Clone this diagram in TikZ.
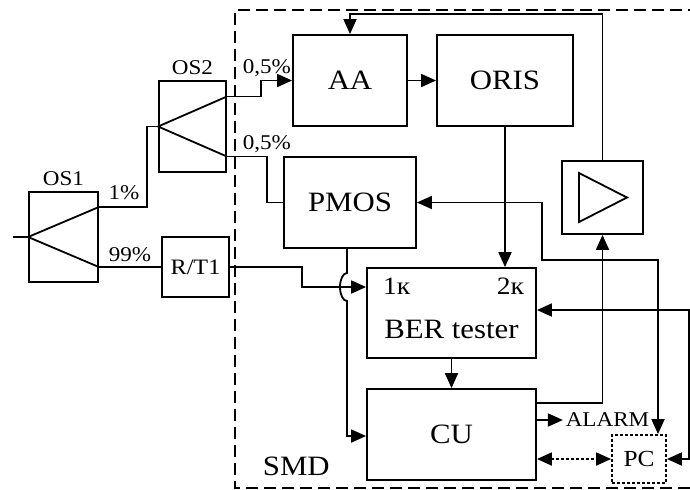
\documentclass[tikz,border=0pt]{standalone}
\usepackage{fontspec}
\setmainfont{Liberation Serif}[FakeStretch=1.1]
\usetikzlibrary{positioning, calc, arrows.meta}

\begin{document}
\begin{tikzpicture}[
  x=0.5pt, y=-0.5pt,
  line width=0.9pt,
  >={Triangle[length=7.5pt,width=6.5pt]},
  blk/.style={draw, line width=0.9pt, inner sep=0pt, font=\fontsize{14}{16}\selectfont},
  lbl/.style={inner sep=0pt, font=\fontsize{10.5}{12}\selectfont},
  frame/.style={line width=0.9pt, dash pattern=on 6pt off 3pt},
  dots/.style={dash pattern=on 1.5pt off 1pt},
]
\useasboundingbox (0,0) rectangle (690,489);

% ---------- SMD frame ----------
\coordinate (frameBL) at (235,488);
\draw[frame] (700,10) -- (235,10) -- (frameBL) -- (700,488);
\node[inner sep=0pt, font=\fontsize{14}{16}\selectfont, anchor=base west] (smd)
  at ($(frameBL)+(27,-13)$) {SMD};

% ---------- splitters ----------
\node[blk, minimum width=34.5pt, minimum height=45pt] (os1) at (63.5,237) {};
\node[blk, minimum width=33.5pt, minimum height=45.5pt] (os2) at (192.5,126.5) {};
\node[lbl, anchor=south] (os1lbl) at ([yshift=2.5pt]os1.north) {OS1};
\node[lbl, anchor=south] (os2lbl) at ([yshift=2.5pt]os2.north) {OS2};

\coordinate (os1up) at ($(os1.east)+(0,-30)$);
\coordinate (os1dn) at ($(os1.east)+(0,30)$);
\coordinate (os2up) at ($(os2.east)+(0,-30)$);
\coordinate (os2dn) at ($(os2.east)+(0,30)$);
\draw (os1up) -- (os1.west) -- (os1dn);
\draw (os2up) -- (os2.west) -- (os2dn);

\coordinate (inp) at (13,237);
\draw (inp) -- (os1.west);

% ---------- blocks ----------
\node[blk, minimum width=33.5pt, minimum height=30pt,
      font=\fontsize{11}{13}\selectfont] (rt1) at (195.5,267) {R/T1};
\node[blk, minimum width=57pt, minimum height=45.5pt] (aa) at (350,80.5) {AA};
\node[blk, minimum width=68pt, minimum height=45.5pt] (oris) at (505,80.5) {ORIS};
\node[blk, minimum width=66pt, minimum height=45.5pt] (pmos) at (350,202.5) {PMOS};
\node[blk, minimum width=40.5pt, minimum height=36.5pt] (amp) at (602.5,197.5) {};
\node[blk, minimum width=84.5pt, minimum height=45pt] (ber) at (451.5,313) {};
\node[blk, minimum width=84.5pt, minimum height=45.5pt] (cu) at (451.5,434.5) {CU};
\node[blk, dots, minimum width=27pt, minimum height=24pt,
      font=\fontsize{11.5}{13}\selectfont] (pc) at (639,459) {PC};

% amplifier symbol
\draw ($(amp.center)+(-23.5,-24.5)$) -- ($(amp.center)+(-23.5,24.5)$)
  -- ($(amp.center)+(24.5,0)$) -- cycle;

% BER tester texts
\node[inner sep=0pt, font=\fontsize{14}{16}\selectfont, anchor=base] (berlbl)
  at ($(ber.south)+(0,-20)$) {BER tester};
\node[inner sep=0pt, font=\fontsize{12.5}{14}\selectfont, anchor=base west] (ch1)
  at ($(ber.north west)+(16,27)$) {1к};
\node[inner sep=0pt, font=\fontsize{12.5}{14}\selectfont, anchor=base east] (ch2)
  at ($(ber.north east)+(-12,27)$) {2к};

% ---------- splitter outputs ----------
\draw (os1up) -| ($(os2.west)+(-11,0)$) -- (os2.west);
\node[lbl, anchor=south] (p1) at ($(os1up)+(25,-6)$) {1\%};
\draw (os1dn) -- (rt1.west);
\node[lbl, anchor=south] (p99) at ($(os1dn)!0.5!(rt1.west)+(0,-4)$) {99\%};

\draw[->] (os2up) -| ($(aa.west)+(-31,0)$) -- (aa.west);
\node[lbl, anchor=base west] (p05a) at ($(os2up)+(15,-23)$) {0,5\%};
\draw (os2dn) -| ($(pmos.west)+(-16,0)$) -- (pmos.west);
\node[lbl, anchor=base west] (p05b) at ($(os2dn)+(15,-7)$) {0,5\%};

% ---------- signal paths ----------
\draw[->] (aa.east) -- (oris.west);
\draw[->] (oris.south) -- (oris.south |- ber.north);
\draw[->] (amp.north) -- ++(0,-146) -| (aa.north);
\draw[->] (ber.south) -- (cu.north);

\coordinate (berIn) at ([yshift=13pt]ber.west);
\draw[->] (rt1.east) -| ($(berIn)+(-64,0)$) -- (berIn);

% PMOS -> CU, hopping over the R/T1 line
\coordinate (pmB) at ([xshift=-1.5pt]pmos.south);
\coordinate (hop) at (pmB |- berIn);
\draw[->] (pmB) -- ($(hop)+(0,-14)$)
  arc[start angle=90, end angle=270, x radius=3.5pt, y radius=7pt]
  |- ([yshift=-0.75pt]cu.west);

% ---------- control lines ----------
\coordinate (pcTop) at ([xshift=9.5pt]pc.north);
\draw[<->] (pmos.east) -| ($(ber.north east)+(5,-7)$) -| (pcTop);
\draw[->] ([yshift=15.75pt]cu.east) -| (amp.south);
\draw[<->] ([yshift=1.5pt]ber.east) -- ++(152,0) |- (pc.east);

\node[lbl, anchor=west, inner sep=1pt] (alarm) at ($(cu.east)+(26,-14.5)$) {ALARM};
\draw[->] ([yshift=7.25pt]cu.east) -- (alarm.west);
\draw[<->, dots] (cu.east |- pc.west) -- (pc.west);

\end{tikzpicture}
\end{document}
